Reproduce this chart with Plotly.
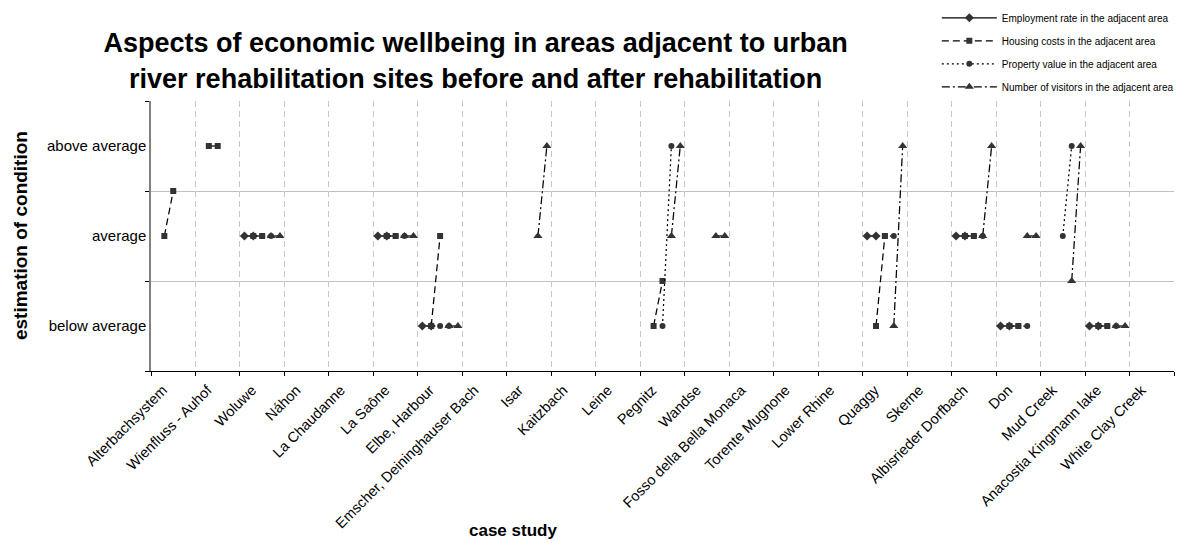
import plotly.graph_objects as go

cases = ["Alterbachsystem", "Wienfluss - Auhof", "Woluwe", "Náhon", "La Chaudanne",
         "La Saône", "Elbe, Harbour", "Emscher, Deininghauser Bach", "Isar", "Kaitzbach",
         "Leine", "Pegnitz", "Wandse", "Fosso della Bella Monaca", "Torente Mugnone",
         "Lower Rhine", "Quaggy", "Skerne", "Albisrieder Dorfbach", "Don", "Mud Creek",
         "Anacostia Kingmann lake", "White Clay Creek"]

N = None
# 1 = below average, 2 = average, 3 = above average
employment_before = [N, N, 2, N, N, 2, 1, N, N, N, N, N, N, N, N, N, 2, N, 2, 1, N, 1, N]
employment_after  = [N, N, 2, N, N, 2, 1, N, N, N, N, N, N, N, N, N, 2, N, 2, 1, N, 1, N]
housing_before    = [2, 3, 2, N, N, 2, 1, N, N, N, N, 1, N, N, N, N, 1, N, 2, 1, N, 1, N]
housing_after     = [2.5, 3, 2, N, N, 2, 2, N, N, N, N, 1.5, N, N, N, N, 2, N, 2, 1, N, 1, N]
property_before   = [N, N, 2, N, N, 2, 1, N, N, N, N, 1, N, N, N, N, 2, N, 2, 1, 2, 1, N]
property_after    = [N, N, 2, N, N, 2, 1, N, N, N, N, 3, N, N, N, N, 2, N, 2, 1, 3, 1, N]
visitors_before   = [N, N, 2, N, N, 2, 1, N, 2, N, N, 2, 2, N, N, N, 1, N, 2, 2, 1.5, 1, N]
visitors_after    = [N, N, 2, N, N, 2, 1, N, 3, N, N, 3, 2, N, N, N, 3, N, 3, 2, 3, 1, N]

y_labels = ["below average", "average", "above average"]

series = [
    ("Employment rate in the adjacent area", employment_before, employment_after, 0.1, "solid", "diamond", 7),
    ("Housing costs in the adjacent area", housing_before, housing_after, 0.3, "7px,4px", "square", 6),
    ("Property value in the adjacent area", property_before, property_after, 0.5, "2px,3px", "circle", 6),
    ("Number of visitors in the adjacent area", visitors_before, visitors_after, 0.7, "8px,3px,2px,3px", "triangle-up", 8),
]

FONT = "Arial, Liberation Sans, sans-serif"
fig = go.Figure()
for k, (name, before, after, off, dash, sym, size) in enumerate(series):
    xs, ys = [], []
    for i, (b, a) in enumerate(zip(before, after)):
        if b is None and a is None:
            continue
        xs += [i + off, i + off + 0.2, None]
        ys += [b, a, None]
    fig.add_trace(go.Scatter(
        x=xs, y=ys, mode="lines+markers", name=name, legendgroup=f"g{k}",
        line=dict(color="#000000", width=1.25, dash=dash),
        marker=dict(symbol=sym, size=size, color="#333333"),
        connectgaps=False,
    ))

fig.update_layout(
    width=1175, height=535,
    margin=dict(l=143, r=9, t=93, b=172, autoexpand=False),
    paper_bgcolor="white", plot_bgcolor="white",
    font=dict(family=FONT, color="#000000", size=12),
    title=dict(text="<b>Aspects of economic wellbeing in areas adjacent to urban<br>river rehabilitation sites before and after rehabilitation</b>",
               x=0.398, xanchor="center", y=0.917, yanchor="middle", yref="container", xref="container",
               font=dict(family=FONT, size=27, color="#000000")),
    showlegend=True,
    legend=dict(xref="container", yref="paper", x=0.7905, xanchor="left", y=1.362, yanchor="top",
                bgcolor="white", itemwidth=55,
                font=dict(family=FONT, size=10, color="#000000"),
                tracegroupgap=4),
)

fig.update_xaxes(
    range=[0, 23], tickmode="array", automargin=False,
    tickvals=list(range(len(cases) + 1)), ticktext=cases + [""],
    tickangle=-45, ticks="outside", ticklen=4, tickcolor="#000000",
    ticklabelshift=12,
    showgrid=True, gridcolor="#c8c8c8", griddash="6px,4px", gridwidth=1,
    showline=True, linecolor="#000000", linewidth=1, zeroline=False,
    tickfont=dict(family=FONT, size=14.5, color="#000000"),
)
fig.update_yaxes(
    range=[0.5, 3.5], tickmode="array", tickvals=[1, 2, 3], ticktext=y_labels,
    ticks="", showgrid=False, zeroline=False, automargin=False,
    showline=True, linecolor="#808080", linewidth=1.5,
    tickfont=dict(family=FONT, size=15, color="#000000"),
    minor=dict(tick0=0.5, dtick=1, ticks="outside", ticklen=4, tickcolor="#000000",
               showgrid=True, gridcolor="#c0c0c0", gridwidth=1),
)

fig.add_annotation(text="<b>estimation of condition</b>", xref="paper", yref="paper",
                   x=-0.128, y=0.5, xanchor="center", yanchor="middle", textangle=-90,
                   borderpad=0,
                   showarrow=False, font=dict(family=FONT, size=19, color="#000000"))
fig.add_annotation(text="<b>case study</b>", xref="paper", yref="paper",
                   x=0.354, y=-0.589, xanchor="center", yanchor="middle",
                   showarrow=False, font=dict(family=FONT, size=17, color="#000000"))

fig.write_html("out.html")
